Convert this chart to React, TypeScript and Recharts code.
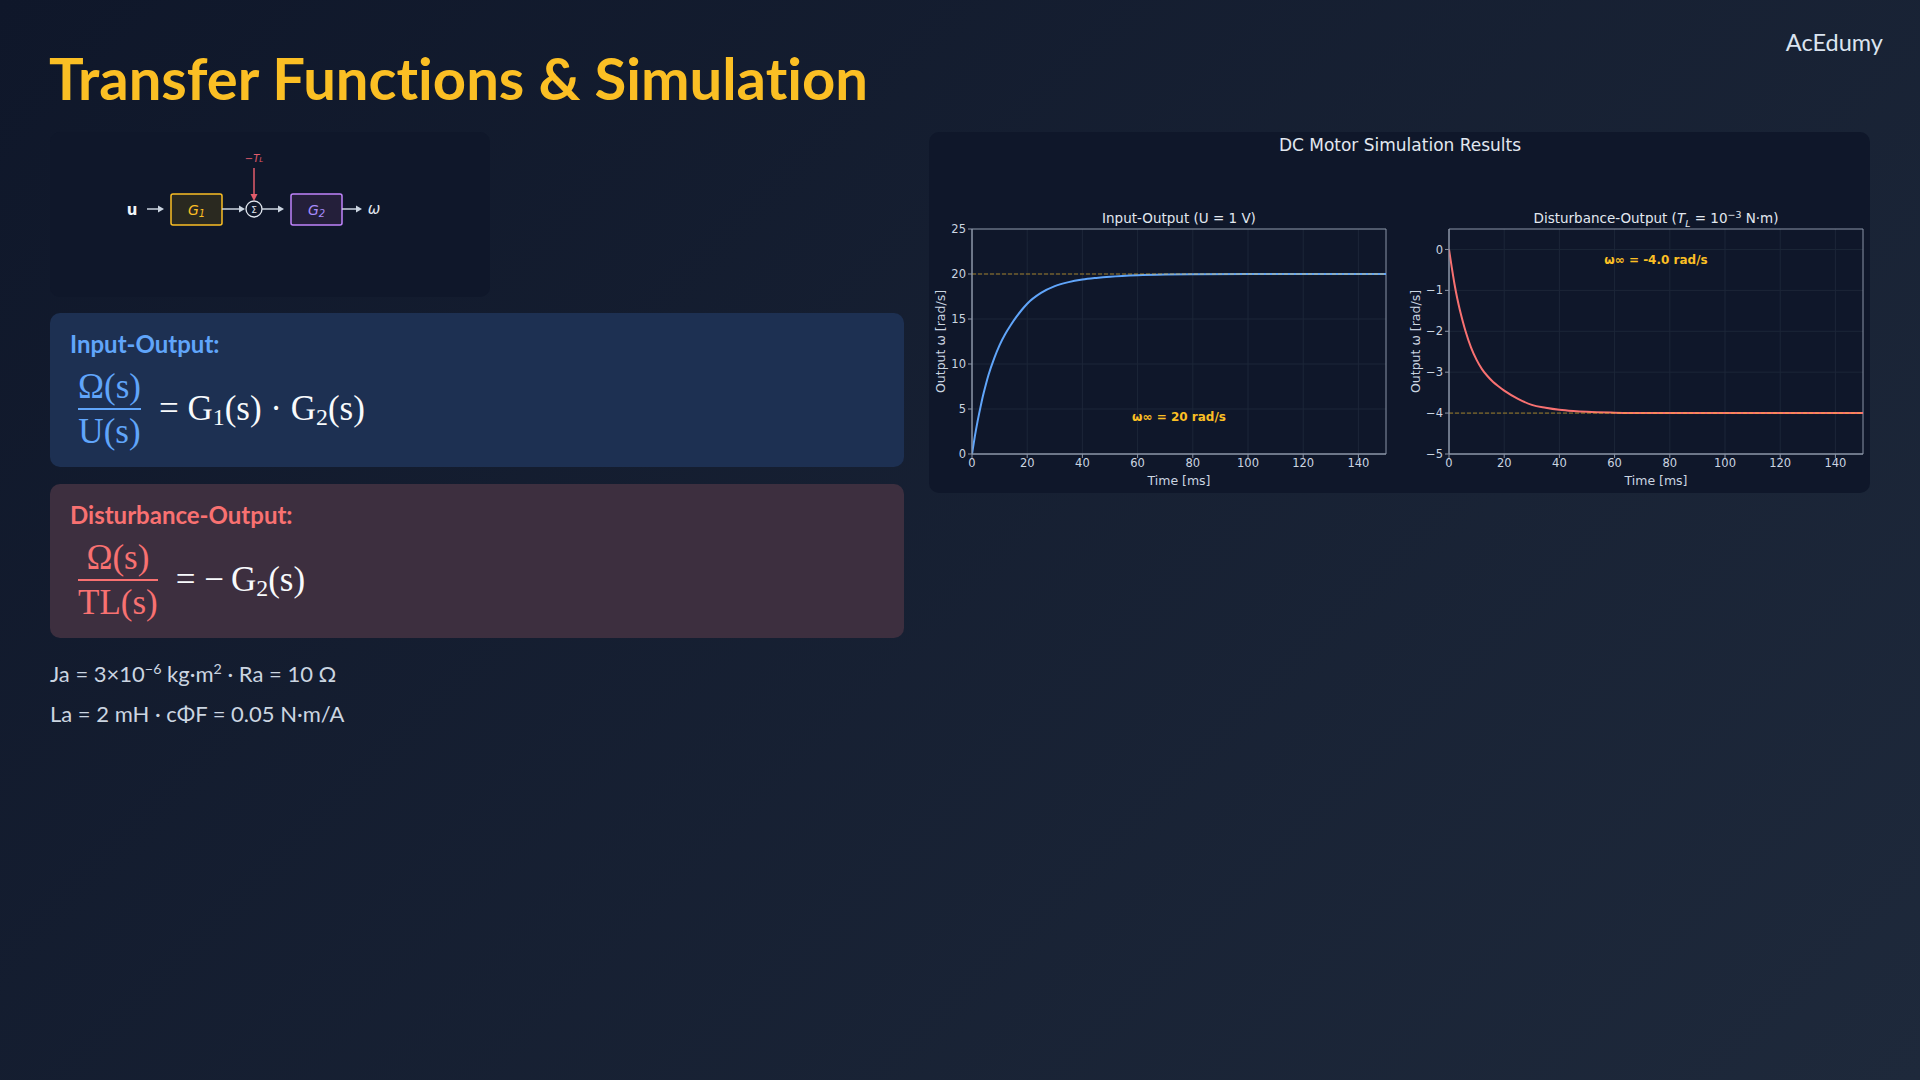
import {
  LineChart,
  Line,
  XAxis,
  YAxis,
  CartesianGrid,
  ReferenceLine,
  ReferenceDot,
  ReferenceArea,
} from 'recharts';

// step responses (time in ms)
const timeMs = [
  0, 1, 2, 3, 4, 5, 6, 8, 10, 12, 14, 16, 18, 20, 25, 30, 35, 40, 45, 50, 60, 70, 80, 100, 125, 150,
];
const inputOutput = [
  0, 1.9, 3.6, 5.1, 6.5, 7.7, 8.8, 10.6, 12.1, 13.3, 14.3, 15.2, 16.0, 16.7, 17.9, 18.65, 19.1,
  19.38, 19.56, 19.7, 19.87, 19.95, 19.98, 20, 20, 20,
];
const disturbanceOutput = [
  0, -0.44, -0.85, -1.2, -1.5, -1.76, -2.0, -2.4, -2.7, -2.93, -3.1, -3.24, -3.35, -3.45, -3.65,
  -3.8, -3.87, -3.92, -3.95, -3.97, -3.99, -4.0, -4.0, -4.0, -4.0, -4.0,
];

const timeTicks = [0, 20, 40, 60, 80, 100, 120, 140];
const ioTicks = [0, 5, 10, 15, 20, 25];
const distTicks = [-5, -4, -3, -2, -1, 0];

const ioSteady = 20;
const distSteady = -4;

const ioData = timeMs.map((t, i) => ({ t, w: inputOutput[i] }));
const distData = timeMs.map((t, i) => ({ t, w: disturbanceOutput[i] }));

const AXIS = '#8b95a7';
const TICK = '#cbd5e1';
const GRID = '#1c2638';
const GOLD = '#fbbf24';
const MPL_FONT = '"DejaVu Sans", sans-serif';
const UI_FONT = 'Lato, "Open Sans", sans-serif';
const MATH_FONT = '"Liberation Serif", serif';

const minus = (v: number) => (v < 0 ? `\u2212${Math.abs(v)}` : `${v}`);

function yLabel(props: any) {
  const vb = props.viewBox || {};
  const cy = (vb.y ?? 29) + (vb.height ?? 225) / 2;
  return (
    <text
      x={15}
      y={cy}
      transform={`rotate(-90 15 ${cy})`}
      textAnchor="middle"
      dominantBaseline="central"
      fill={TICK}
      fontSize={12.5}
      fontFamily={MPL_FONT}
    >
      Output ω [rad/s]
    </text>
  );
}

function xLabel(props: any) {
  const vb = props.viewBox || {};
  const cx = (vb.x ?? 47) + (vb.width ?? 414) / 2;
  return (
    <text
      x={cx}
      y={(vb.y ?? 254) + 26}
      textAnchor="middle"
      dominantBaseline="central"
      fill={TICK}
      fontSize={12.5}
      fontFamily={MPL_FONT}
    >
      Time [ms]
    </text>
  );
}

interface PlotProps {
  data: { t: number; w: number }[];
  yTicks: number[];
  yDomain: [number, number];
  yAxisWidth: number;
  steady: number;
  color: string;
  note: string;
  noteY: number;
}

function StepPlot({ data, yTicks, yDomain, yAxisWidth, steady, color, note, noteY }: PlotProps) {
  return (
    <LineChart
      width={475}
      height={290}
      data={data}
      margin={{ top: 29, right: 475 - yAxisWidth - 414, bottom: 0, left: 0 }}
    >
      <CartesianGrid stroke={GRID} horizontalValues={yTicks} verticalValues={timeTicks} />
      <XAxis
        dataKey="t"
        type="number"
        domain={[0, 150]}
        ticks={timeTicks}
        allowDataOverflow
        height={36}
        stroke={AXIS}
        tick={{ fill: TICK, fontSize: 11.5, fontFamily: MPL_FONT }}
        tickSize={4}
        tickMargin={1}
        label={xLabel}
      />
      <YAxis
        type="number"
        domain={yDomain}
        ticks={yTicks}
        allowDataOverflow
        width={yAxisWidth}
        stroke={AXIS}
        tick={{ fill: TICK, fontSize: 11.5, fontFamily: MPL_FONT }}
        tickSize={4}
        tickMargin={2}
        tickFormatter={minus}
        label={yLabel}
      />
      <ReferenceArea
        x1={0}
        x2={150}
        y1={yDomain[0]}
        y2={yDomain[1]}
        fill="none"
        stroke={AXIS}
        strokeWidth={1}
      />
      <Line
        type="monotone"
        dataKey="w"
        stroke={color}
        strokeWidth={2}
        dot={false}
        isAnimationActive={false}
      />
      <ReferenceLine
        y={steady}
        stroke={GOLD}
        strokeOpacity={0.6}
        strokeDasharray="4 2"
        strokeWidth={1}
      />
      <ReferenceDot
        x={75}
        y={noteY}
        r={0}
        fill="none"
        stroke="none"
        label={{
          value: note,
          position: 'center',
          fill: GOLD,
          fontSize: 12,
          fontWeight: 'bold',
          fontFamily: MPL_FONT,
        }}
      />
    </LineChart>
  );
}

function Fraction({ top, bottom, color }: { top: string; bottom: string; color: string }) {
  return (
    <div style={{ display: 'inline-flex', flexDirection: 'column', alignItems: 'center' }}>
      <span style={{ color, lineHeight: '35px' }}>{top}</span>
      <span style={{ alignSelf: 'stretch', height: 2, background: color, margin: '4px 0' }} />
      <span style={{ color, lineHeight: '35px' }}>{bottom}</span>
    </div>
  );
}

const sub = { fontSize: '0.68em', verticalAlign: '-0.22em', lineHeight: 0 } as const;

function BlockDiagram() {
  const arrow = (x1: number, x2: number, y: number, c = '#cbd5e1') => (
    <g>
      <line x1={x1} y1={y} x2={x2 - 4} y2={y} stroke={c} strokeWidth={1.5} />
      <polygon points={`${x2},${y} ${x2 - 6},${y - 3.5} ${x2 - 6},${y + 3.5}`} fill={c} />
    </g>
  );
  return (
    <svg width={440} height={165} style={{ position: 'absolute', left: 0, top: 0 }}>
      <text x={82} y={78} fill="#f1f5f9" fontSize={15} fontWeight="bold" fontFamily={MPL_FONT} textAnchor="middle" dominantBaseline="central">
        u
      </text>
      {arrow(97, 114, 77)}
      <rect x={121} y={62} width={51} height={31} rx={2} fill="#2a2920" stroke={GOLD} strokeWidth={1.5} />
      <text x={146.5} y={78} fill={GOLD} fontSize={14} fontStyle="italic" fontFamily={MPL_FONT} textAnchor="middle" dominantBaseline="central">
        G<tspan fontSize={10} dy={3}>1</tspan>
      </text>
      {arrow(172, 195, 77)}
      <circle cx={204} cy={77} r={8} fill="none" stroke="#e2e8f0" strokeWidth={1.3} />
      <text x={204} y={77.5} fill="#e2e8f0" fontSize={9} fontFamily={MPL_FONT} textAnchor="middle" dominantBaseline="central">
        Σ
      </text>
      <line x1={204} y1={36} x2={204} y2={63} stroke="#e25c6b" strokeWidth={1.5} />
      <polygon points="204,69 200.5,62 207.5,62" fill="#e25c6b" />
      <text x={204} y={26} fill="#e25c6b" fontSize={10} fontStyle="italic" fontFamily={MPL_FONT} textAnchor="middle" dominantBaseline="central">
        −T<tspan fontSize={7} dy={2}>L</tspan>
      </text>
      {arrow(212, 234, 77)}
      <rect x={241} y={62} width={51} height={31} rx={2} fill="#241f3a" stroke="#c084fc" strokeWidth={1.5} />
      <text x={266.5} y={78} fill="#a78bfa" fontSize={14} fontStyle="italic" fontFamily={MPL_FONT} textAnchor="middle" dominantBaseline="central">
        G<tspan fontSize={10} dy={3}>2</tspan>
      </text>
      {arrow(292, 312, 77)}
      <text x={324} y={77} fill="#e2e8f0" fontSize={15} fontStyle="italic" fontFamily={MPL_FONT} textAnchor="middle" dominantBaseline="central">
        ω
      </text>
    </svg>
  );
}

export default function App() {
  return (
    <div
      style={{
        position: 'fixed',
        left: 0,
        top: 0,
        width: 1920,
        height: 1080,
        overflow: 'hidden',
        background: 'linear-gradient(135deg, #0f172a 0%, #1e293b 100%)',
        fontFamily: UI_FONT,
        fontVariantLigatures: 'none',
      }}
    >
      <div
        style={{
          position: 'absolute',
          left: 49,
          top: 43,
          fontSize: 58,
          fontWeight: 700,
          color: GOLD,
          lineHeight: '70px',
          whiteSpace: 'nowrap',
        }}
      >
        Transfer Functions &amp; Simulation
      </div>
      <div
        style={{
          position: 'absolute',
          right: 37,
          top: 27,
          fontSize: 23.5,
          color: '#dbe4f0',
          lineHeight: '30px',
        }}
      >
        AcEdumy
      </div>

      {/* block diagram */}
      <div
        style={{
          position: 'absolute',
          left: 50,
          top: 132,
          width: 440,
          height: 165,
          borderRadius: 10,
          background: '#0f172a',
        }}
      >
        <BlockDiagram />
      </div>

      {/* input-output transfer function */}
      <div
        style={{
          position: 'absolute',
          left: 50,
          top: 313,
          width: 854,
          height: 154,
          borderRadius: 10,
          background: '#1d3052',
        }}
      >
        <div style={{ position: 'absolute', left: 20, top: 18, fontSize: 24, fontWeight: 700, color: '#60a5fa', lineHeight: '26px' }}>
          Input-Output:
        </div>
        <div
          style={{
            position: 'absolute',
            left: 28,
            top: 56,
            display: 'flex',
            alignItems: 'center',
            fontFamily: MATH_FONT,
            fontSize: 35,
            color: '#f8fafc',
          }}
        >
          <Fraction top="Ω(s)" bottom="U(s)" color="#60a5fa" />
          <span style={{ marginLeft: 18, whiteSpace: 'nowrap' }}>
            = G<span style={sub}>1</span>(s) · G<span style={sub}>2</span>(s)
          </span>
        </div>
      </div>

      {/* disturbance-output transfer function */}
      <div
        style={{
          position: 'absolute',
          left: 50,
          top: 484,
          width: 854,
          height: 154,
          borderRadius: 10,
          background: '#3d2f3f',
        }}
      >
        <div style={{ position: 'absolute', left: 20, top: 18, fontSize: 24, fontWeight: 700, color: '#f87171', lineHeight: '26px' }}>
          Disturbance-Output:
        </div>
        <div
          style={{
            position: 'absolute',
            left: 28,
            top: 56,
            display: 'flex',
            alignItems: 'center',
            fontFamily: MATH_FONT,
            fontSize: 35,
            color: '#f8fafc',
          }}
        >
          <Fraction top="Ω(s)" bottom="TL(s)" color="#f87171" />
          <span style={{ marginLeft: 18, whiteSpace: 'nowrap' }}>
            = −&thinsp;G<span style={sub}>2</span>(s)
          </span>
        </div>
      </div>

      {/* motor parameters */}
      <div style={{ position: 'absolute', left: 50, top: 660, fontSize: 22, color: '#cbd5e1', lineHeight: '28px' }}>
        Ja = 3×10<sup style={{ fontSize: '0.65em', lineHeight: 0 }}>−6</sup> kg·m
        <sup style={{ fontSize: '0.65em', lineHeight: 0 }}>2</sup> · Ra = 10 Ω
      </div>
      <div style={{ position: 'absolute', left: 50, top: 700, fontSize: 22, color: '#cbd5e1', lineHeight: '28px' }}>
        La = 2 mH · cΦF = 0.05 N·m/A
      </div>

      {/* simulation panel */}
      <div
        style={{
          position: 'absolute',
          left: 929,
          top: 132,
          width: 941,
          height: 361,
          borderRadius: 10,
          background: '#0f172a',
        }}
      />
      <div
        style={{
          position: 'absolute',
          left: 1200,
          top: 134,
          width: 400,
          textAlign: 'center',
          fontFamily: MPL_FONT,
          fontSize: 17,
          color: '#e2e8f0',
          lineHeight: '22px',
        }}
      >
        DC Motor Simulation Results
      </div>
      <div
        style={{
          position: 'absolute',
          left: 979,
          top: 209,
          width: 400,
          textAlign: 'center',
          fontFamily: MPL_FONT,
          fontSize: 13.5,
          color: '#e2e8f0',
          lineHeight: '18px',
        }}
      >
        Input-Output (U = 1 V)
      </div>
      <div
        style={{
          position: 'absolute',
          left: 1456,
          top: 209,
          width: 400,
          textAlign: 'center',
          fontFamily: MPL_FONT,
          fontSize: 13.5,
          color: '#e2e8f0',
          lineHeight: '18px',
          whiteSpace: 'nowrap',
        }}
      >
        Disturbance-Output (<i>T</i>
        <sub style={{ fontSize: '0.7em', lineHeight: 0, fontStyle: 'italic' }}>L</sub> = 10
        <sup style={{ fontSize: '0.7em', lineHeight: 0 }}>−3</sup> N·m)
      </div>

      <div style={{ position: 'absolute', left: 925, top: 200 }}>
        <StepPlot
          data={ioData}
          yTicks={ioTicks}
          yDomain={[0, 25]}
          yAxisWidth={47}
          steady={ioSteady}
          color="#60a5fa"
          note="ω∞ = 20 rad/s"
          noteY={4.17}
        />
      </div>
      <div style={{ position: 'absolute', left: 1400, top: 200 }}>
        <StepPlot
          data={distData}
          yTicks={distTicks}
          yDomain={[-5, 0.5]}
          yAxisWidth={49}
          steady={distSteady}
          color="#f87171"
          note="ω∞ = -4.0 rad/s"
          noteY={-0.24}
        />
      </div>
    </div>
  );
}
